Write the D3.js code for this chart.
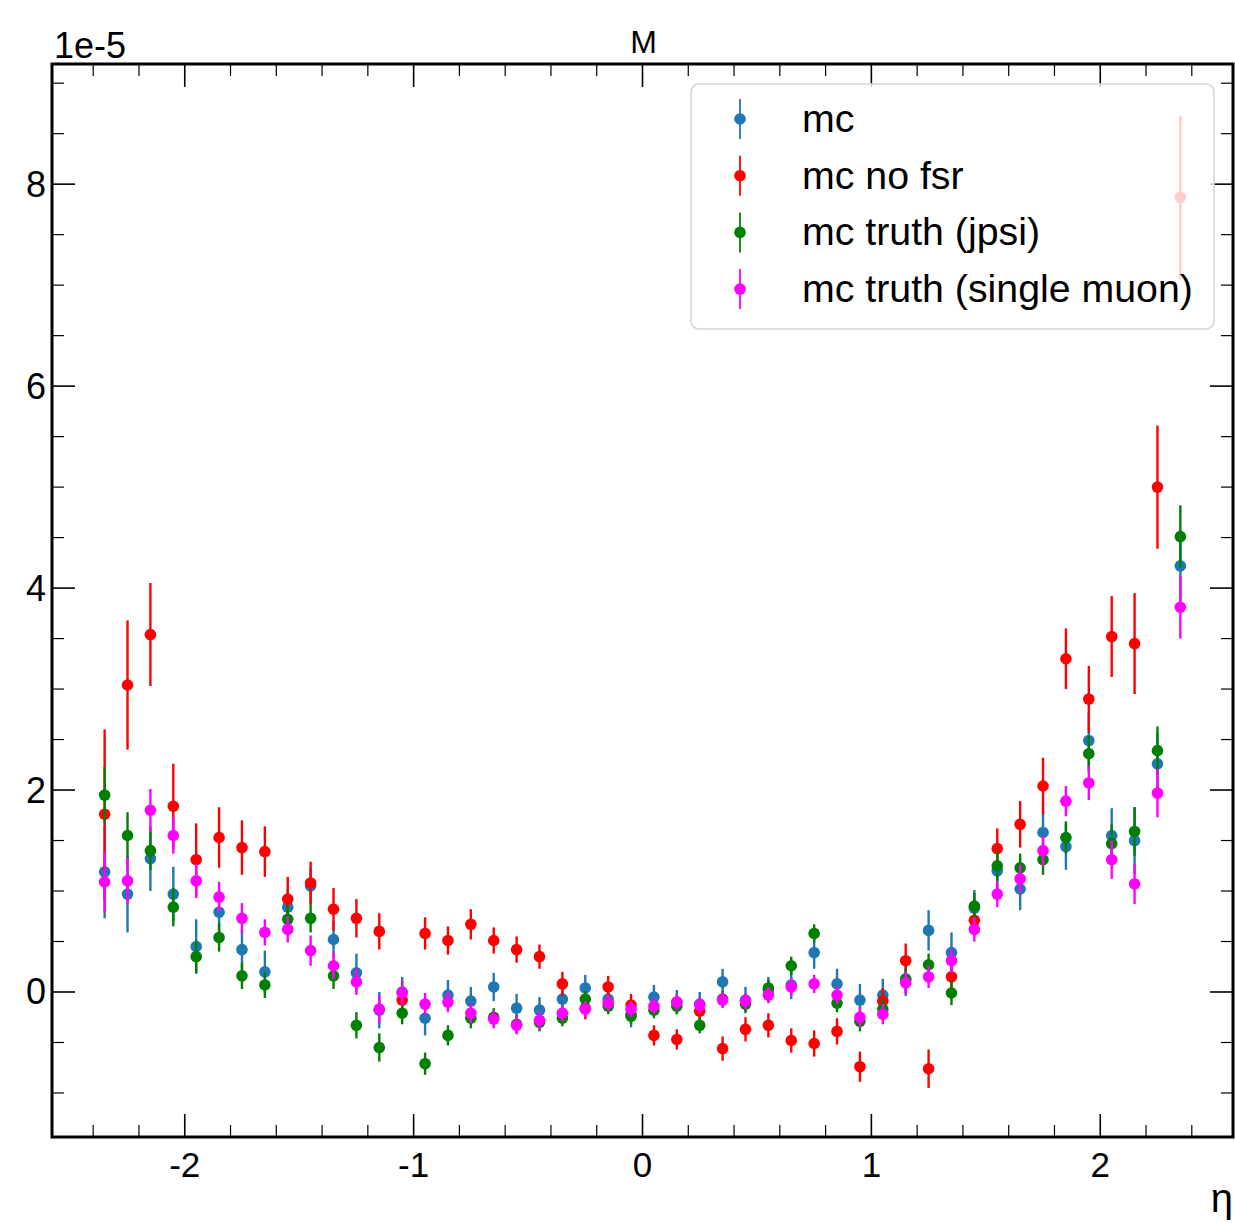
<!DOCTYPE html>
<html><head><meta charset="utf-8">
<script src="https://cdn.jsdelivr.net/npm/d3@7/dist/d3.min.js"></script>
<style>body{margin:0;background:#fff;} svg{display:block;} text{font-family:"Liberation Sans",Arial,Helvetica,sans-serif;}</style>
</head><body>
<svg id="chart" width="1235" height="1223"></svg>
<script>
// bin centres (eta)
const etaCenters = d3.range(48).map(i => +(-2.35 + 0.1 * i).toFixed(2));
const seriesNames = ["mc", "mc no fsr", "mc truth (jpsi)", "mc truth (single muon)"];
const seriesColors = ["#1f77b4", "#ff0000", "#008000", "#ff00ff"];
// values in units of 1e-5
const mcVals = [1.19,0.97,1.32,0.97,0.45,0.79,0.42,0.20,0.84,1.05,0.52,0.19,-0.18,0.00,-0.26,-0.03,-0.09,0.05,-0.16,-0.18,-0.07,0.04,-0.07,-0.22,-0.05,-0.10,-0.12,0.10,-0.08,0.02,0.07,0.39,0.08,-0.08,-0.03,0.13,0.61,0.39,0.83,1.20,1.02,1.58,1.44,2.49,1.55,1.50,2.26,4.22];
const mcErr  = [0.46,0.38,0.32,0.27,0.27,0.22,0.20,0.21,0.18,0.18,0.18,0.19,0.18,0.15,0.17,0.15,0.14,0.14,0.14,0.13,0.13,0.13,0.13,0.13,0.12,0.12,0.12,0.13,0.13,0.13,0.14,0.16,0.15,0.16,0.16,0.17,0.20,0.20,0.18,0.19,0.21,0.25,0.23,0.28,0.27,0.33,0.30,0.35];
const noFsrVals = [1.76,3.04,3.54,1.84,1.31,1.53,1.43,1.39,0.92,1.08,0.82,0.73,0.60,-0.08,0.58,0.51,0.67,0.51,0.42,0.35,0.08,-0.16,0.05,-0.13,-0.43,-0.47,-0.19,-0.56,-0.37,-0.33,-0.48,-0.51,-0.39,-0.74,-0.09,0.31,-0.76,0.15,0.71,1.42,1.66,2.04,3.30,2.90,3.52,3.45,5.00,7.87];
const noFsrErr  = [0.84,0.64,0.51,0.42,0.36,0.30,0.27,0.25,0.22,0.21,0.21,0.19,0.18,0.14,0.16,0.14,0.15,0.13,0.13,0.12,0.12,0.11,0.11,0.11,0.10,0.10,0.11,0.12,0.12,0.12,0.12,0.13,0.13,0.15,0.13,0.17,0.19,0.16,0.15,0.20,0.23,0.28,0.30,0.33,0.40,0.50,0.61,0.81];
const jpsiVals = [1.95,1.55,1.40,0.84,0.35,0.54,0.16,0.07,0.72,0.73,0.16,-0.33,-0.55,-0.21,-0.71,-0.43,-0.26,-0.25,-0.32,-0.30,-0.26,-0.07,-0.14,-0.24,-0.18,-0.14,-0.33,-0.07,-0.12,0.04,0.26,0.58,-0.11,-0.29,-0.17,0.12,0.27,-0.01,0.85,1.25,1.23,1.31,1.53,2.36,1.47,1.59,2.39,4.51];
const jpsiErr  = [0.28,0.23,0.19,0.19,0.16,0.14,0.13,0.13,0.13,0.14,0.13,0.13,0.14,0.11,0.11,0.10,0.10,0.09,0.09,0.09,0.08,0.08,0.08,0.08,0.08,0.08,0.08,0.08,0.08,0.08,0.09,0.09,0.09,0.10,0.10,0.11,0.11,0.12,0.13,0.15,0.14,0.15,0.16,0.18,0.19,0.24,0.24,0.31];
const muonVals = [1.09,1.10,1.80,1.55,1.10,0.94,0.73,0.59,0.62,0.41,0.26,0.10,-0.17,-0.01,-0.12,-0.10,-0.21,-0.27,-0.33,-0.28,-0.21,-0.17,-0.11,-0.17,-0.14,-0.10,-0.13,-0.08,-0.09,-0.03,0.05,0.08,-0.03,-0.25,-0.22,0.09,0.15,0.31,0.62,0.97,1.12,1.40,1.89,2.07,1.31,1.07,1.97,3.81];
const muonErr  = [0.30,0.23,0.21,0.18,0.17,0.15,0.15,0.13,0.13,0.15,0.13,0.13,0.14,0.12,0.11,0.10,0.10,0.09,0.09,0.09,0.08,0.08,0.08,0.08,0.08,0.08,0.08,0.08,0.08,0.08,0.09,0.09,0.09,0.10,0.10,0.11,0.11,0.12,0.12,0.13,0.14,0.15,0.15,0.17,0.19,0.20,0.24,0.31];
const xMajorTicks = [-2, -1, 0, 1, 2];
const yMajorTicks = [0, 2, 4, 6, 8];
const titleText = "M";
const xLabel = "η";
const yOffsetText = "1e-5";

const seriesVals = [mcVals, noFsrVals, jpsiVals, muonVals];
const seriesErrs = [mcErr, noFsrErr, jpsiErr, muonErr];

const L = 52, R = 1233, T = 64, B = 1137;
const x = d3.scaleLinear().domain([-2.58, 2.58]).range([L, R]);
const y = d3.scaleLinear().domain([-1.436, 9.19]).range([B, T]);
const svg = d3.select("#chart");

// data
const gData = svg.append("g");
seriesVals.forEach((vals, s) => {
  const g = gData.append("g");
  const pts = etaCenters.map((e, i) => ({e, v: vals[i], err: seriesErrs[s][i]}));
  g.selectAll("line").data(pts).enter().append("line")
    .attr("x1", d => x(d.e)).attr("x2", d => x(d.e))
    .attr("y1", d => y(d.v - d.err)).attr("y2", d => y(d.v + d.err))
    .attr("stroke", seriesColors[s]).attr("stroke-width", 2.4);
  g.selectAll("circle").data(pts).enter().append("circle")
    .attr("cx", d => x(d.e)).attr("cy", d => y(d.v)).attr("r", 5.8)
    .attr("fill", seriesColors[s]);
});

// axes with inward ticks
const xMinor = d3.range(-2.4, 2.41, 0.2).map(v => +v.toFixed(2)).filter(v => !xMajorTicks.some(m => Math.abs(m - v) < 1e-6));
const yMinor = d3.range(-1, 9.01, 0.5).filter(v => !yMajorTicks.includes(v));
const gAx = svg.append("g").attr("stroke", "#000");
const majLen = 23, minLen = 12;
xMajorTicks.forEach(v => {
  gAx.append("line").attr("x1", x(v)).attr("x2", x(v)).attr("y1", B).attr("y2", B - majLen).attr("stroke-width", 1.6);
  gAx.append("line").attr("x1", x(v)).attr("x2", x(v)).attr("y1", T).attr("y2", T + majLen).attr("stroke-width", 1.6);
});
xMinor.forEach(v => {
  gAx.append("line").attr("x1", x(v)).attr("x2", x(v)).attr("y1", B).attr("y2", B - minLen).attr("stroke-width", 1.2);
  gAx.append("line").attr("x1", x(v)).attr("x2", x(v)).attr("y1", T).attr("y2", T + minLen).attr("stroke-width", 1.2);
});
yMajorTicks.forEach(v => {
  gAx.append("line").attr("y1", y(v)).attr("y2", y(v)).attr("x1", L).attr("x2", L + majLen).attr("stroke-width", 1.6);
  gAx.append("line").attr("y1", y(v)).attr("y2", y(v)).attr("x1", R).attr("x2", R - majLen).attr("stroke-width", 1.6);
});
yMinor.forEach(v => {
  gAx.append("line").attr("y1", y(v)).attr("y2", y(v)).attr("x1", L).attr("x2", L + minLen).attr("stroke-width", 1.2);
  gAx.append("line").attr("y1", y(v)).attr("y2", y(v)).attr("x1", R).attr("x2", R - minLen).attr("stroke-width", 1.2);
});

// tick labels
svg.append("g").selectAll("text").data(xMajorTicks).enter().append("text")
  .attr("x", x).attr("y", B + 40).attr("text-anchor", "middle")
  .attr("font-size", 35).text(d => d < 0 ? "-" + Math.abs(d) : d);
svg.append("g").selectAll("text").data(yMajorTicks).enter().append("text")
  .attr("x", L - 6).attr("y", d => y(d) + 12.5).attr("text-anchor", "end")
  .attr("font-size", 36).text(d => d);

// legend
const lg = svg.append("g");
lg.append("rect").attr("x", 691).attr("y", 84).attr("width", 523).attr("height", 245)
  .attr("rx", 8).attr("fill", "#fff").attr("fill-opacity", 0.8)
  .attr("stroke", "#d6d6d6").attr("stroke-width", 1.6);
seriesNames.forEach((n, i) => {
  const cy = 119 + i * 56.7;
  lg.append("line").attr("x1", 740).attr("x2", 740).attr("y1", cy - 20).attr("y2", cy + 20)
    .attr("stroke", seriesColors[i]).attr("stroke-width", 1.8);
  lg.append("circle").attr("cx", 740).attr("cy", cy).attr("r", 5.8).attr("fill", seriesColors[i]);
  lg.append("text").attr("x", 802).attr("y", cy + 13).attr("font-size", 39.3).text(n);
});

// frame
svg.append("rect").attr("x", L).attr("y", T).attr("width", R - L).attr("height", B - T)
  .attr("fill", "none").attr("stroke", "#000").attr("stroke-width", 3);

// texts
svg.append("text").attr("x", (L + R) / 2 + 1).attr("y", 53).attr("text-anchor", "middle").attr("font-size", 32).text(titleText);
svg.append("text").attr("x", 54).attr("y", 58).attr("font-size", 36).text(yOffsetText);
svg.append("text").attr("x", R).attr("y", 1212).attr("text-anchor", "end").attr("font-size", 40).text(xLabel);
</script>
</body></html>
